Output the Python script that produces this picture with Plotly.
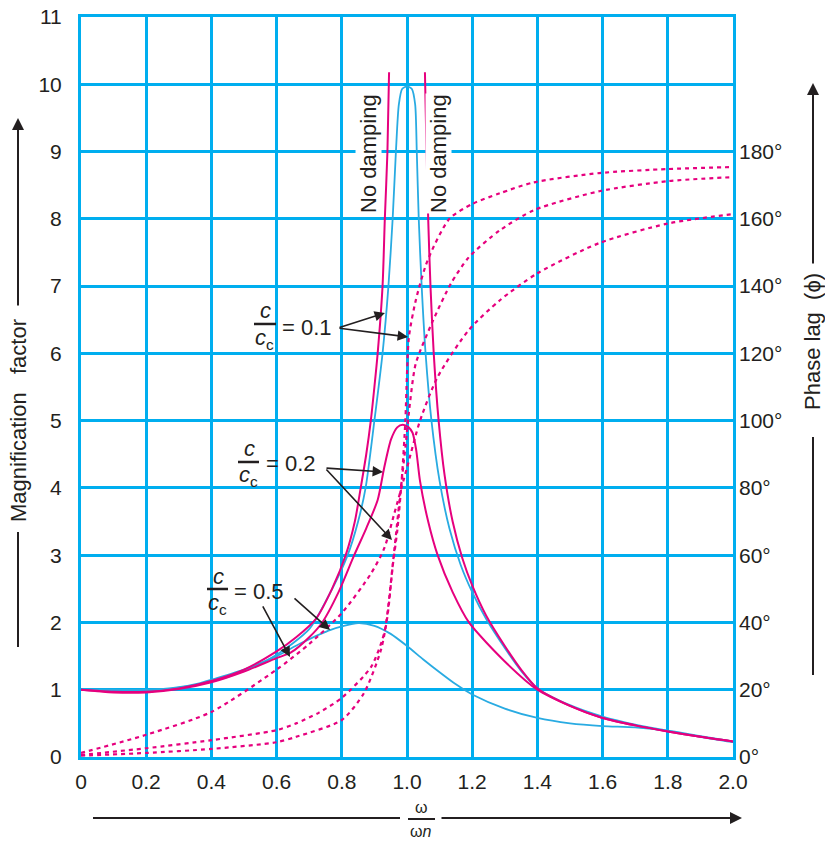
import plotly.graph_objects as go

# ---------------- data ----------------
x_ticks = [0, 0.2, 0.4, 0.6, 0.8, 1.0, 1.2, 1.4, 1.6, 1.8, 2.0]
x_ticktext = ["0", "0.2", "0.4", "0.6", "0.8", "1.0", "1.2", "1.4", "1.6", "1.8", "2.0"]
y_ticks = list(range(0, 12))
phase_ticks = [0, 20, 40, 60, 80, 100, 120, 140, 160, 180]
phase_ticktext = [f"{v}°" for v in phase_ticks]

# magnification factor curves
nd_left_x = [0, 0.1, 0.2, 0.3, 0.4, 0.5, 0.6, 0.66, 0.72, 0.77, 0.812, 0.84, 0.858, 0.875, 0.889, 0.90, 0.91, 0.925, 0.932, 0.94, 0.945]
nd_left_y = [1.0, 0.97, 0.97, 1.02, 1.13, 1.3, 1.57, 1.78, 2.05, 2.5, 3.0, 3.5, 4.0, 4.5, 5.0, 5.5, 6.0, 7.0, 8.0, 9.0, 10.18]
nd_right_x = [1.055, 1.06, 1.065, 1.072, 1.082, 1.097, 1.115, 1.14, 1.17, 1.2, 1.243, 1.3, 1.35, 1.4, 1.5, 1.6, 1.7, 1.8, 1.9, 2.0]
nd_right_y = [10.18, 9.0, 8.0, 7.0, 6.0, 5.0, 4.2, 3.5, 2.95, 2.55, 2.1, 1.65, 1.3, 1.02, 0.76, 0.58, 0.47, 0.38, 0.3, 0.23]

z01_x = [0, 0.1, 0.2, 0.3, 0.4, 0.5, 0.6, 0.7, 0.76, 0.818, 0.85, 0.873, 0.9, 0.925, 0.943, 0.956, 0.966, 0.975, 0.985, 1.0,
         1.015, 1.025, 1.03, 1.036, 1.045, 1.057, 1.075, 1.1, 1.13, 1.165, 1.2, 1.243, 1.3, 1.35, 1.4, 1.5, 1.6, 1.7, 1.8, 1.9, 2.0]
z01_y = [1.0, 0.98, 0.98, 1.03, 1.12, 1.28, 1.52, 1.9, 2.4, 3.0, 3.5, 4.0, 5.0, 6.0, 7.0, 8.0, 9.0, 9.7, 9.93, 9.97,
         9.93, 9.7, 9.0, 8.0, 7.0, 6.0, 5.0, 4.1, 3.4, 2.85, 2.45, 2.05, 1.62, 1.28, 1.02, 0.77, 0.6, 0.48, 0.39, 0.3, 0.22]

z02_x = [0, 0.1, 0.2, 0.3, 0.4, 0.5, 0.6, 0.643, 0.7, 0.74, 0.79, 0.838, 0.875, 0.91, 0.93, 0.951, 0.97, 0.987, 1.005,
         1.017, 1.028, 1.04, 1.065, 1.094, 1.14, 1.19, 1.3, 1.4, 1.5, 1.6, 1.7, 1.8, 1.9, 2.0]
z02_y = [1.0, 0.96, 0.96, 1.01, 1.11, 1.27, 1.47, 1.55, 1.78, 2.0, 2.45, 3.0, 3.4, 3.82, 4.3, 4.72, 4.9, 4.94, 4.9,
         4.82, 4.57, 4.1, 3.5, 3.0, 2.45, 2.0, 1.42, 1.0, 0.76, 0.58, 0.47, 0.38, 0.3, 0.23]

z05_x = [0, 0.1, 0.2, 0.3, 0.366, 0.4, 0.5, 0.6, 0.674, 0.766, 0.85, 0.9, 0.95, 1.0, 1.05, 1.1, 1.15, 1.2, 1.3, 1.4, 1.5, 1.6, 1.7, 1.8, 1.9, 2.0]
z05_y = [1.0, 1.0, 1.0, 1.04, 1.1, 1.15, 1.3, 1.5, 1.69, 1.89, 1.99, 1.95, 1.83, 1.65, 1.45, 1.26, 1.08, 0.93, 0.72, 0.58, 0.5, 0.46, 0.44, 0.39, 0.31, 0.23]

# phase lag curves (degrees)
p01_x = [0, 0.2, 0.4, 0.6, 0.66, 0.8, 0.868, 0.92, 0.94, 0.956, 0.971, 0.985, 0.995, 1.0, 1.006, 1.027, 1.063, 1.13, 1.2, 1.285, 1.387, 1.59, 1.8, 2.0]
p01_deg = [0.4, 1.2, 2.4, 4.4, 6, 11, 19, 31.8, 41.8, 56.6, 68, 84, 100, 114, 125, 135.8, 147.6, 160, 164.4, 167.6, 170.8, 173.6, 174.8, 175.4]
p02_x = [0, 0.2, 0.4, 0.6, 0.66, 0.73, 0.8, 0.89, 0.93, 0.945, 0.955, 0.966, 0.98, 0.995, 1.01, 1.027, 1.08, 1.135, 1.19, 1.285, 1.39, 1.59, 1.8, 2.0]
p02_deg = [0.6, 2.6, 5, 8, 10, 13.2, 17.6, 26.8, 36.8, 47, 56, 66, 79, 92, 106, 117, 129.8, 140.8, 148.6, 156.6, 162.6, 168.2, 171.2, 172.4]
p05_x = [0, 0.2, 0.4, 0.6, 0.7, 0.8, 0.89, 0.93, 0.96, 1.0, 1.04, 1.094, 1.19, 1.285, 1.4, 1.59, 1.8, 2.0]
p05_deg = [1.2, 6.6, 13.4, 26, 33.6, 42.8, 54.6, 62, 72, 86, 100, 113, 127, 135.8, 143.8, 152.8, 158.6, 161.4]

# ---------------- styling ----------------
GRID = "#00AEEF"
MAG = "#E6007E"
BLUE = "#29ABE2"
TXT = "#231F20"
FONT = "Liberation Sans, Arial, sans-serif"

fig = go.Figure()

def solid(x, y, color, width):
    fig.add_trace(go.Scatter(x=x, y=y, mode="lines", line=dict(color=color, width=width, shape="spline", smoothing=0.7),
                             hoverinfo="skip", showlegend=False))

def dashed(x, y):
    fig.add_trace(go.Scatter(x=x, y=y, mode="lines", yaxis="y2",
                             line=dict(color=MAG, width=2.2, dash="4px,4px", shape="spline", smoothing=0.7),
                             hoverinfo="skip", showlegend=False))

dashed(p01_x, p01_deg)
dashed(p02_x, p02_deg)
dashed(p05_x, p05_deg)
solid(z05_x, z05_y, BLUE, 1.8)
solid(z01_x, z01_y, BLUE, 1.8)
solid(z02_x, z02_y, MAG, 2.0)
solid(nd_left_x, nd_left_y, MAG, 2.0)
solid(nd_right_x, nd_right_y, MAG, 2.0)

# page pixel -> data / paper helpers for label placement
def dx(px):
    return (px - 81) / 326.0

def dy(py):
    return (757 - py) / 67.27

def px_(px):
    return (px - 81) / 652.0

def py_(py):
    return (757 - py) / 740.0

ann = []
shapes = []

# "No damping" labels
for cx in (369, 439):
    ann.append(dict(x=dx(cx), y=dy(154), xref="x", yref="y", text="No damping", textangle=-90, showarrow=False,
                    xanchor="center", yanchor="middle",
                    font=dict(size=22, color=TXT, family=FONT), bgcolor="white", borderpad=0))

# damping-ratio labels c/cc = ...
labels = [
    ("0.1", (265, 311), (254, 276, 324), (264, 339), (280, 328), [((338, 328), (385, 313)), ((338, 328), (408, 337))]),
    ("0.2", (249, 449), (238, 259, 462), (248, 476), (264, 464), [((325, 468), (383, 472)), ((325, 468), (392, 540))]),
    ("0.5", (218, 577), (207, 228, 589), (217, 604), (232, 592), [((293, 597), (330, 630)), ((262, 605), (290, 657))]),
]
for val, cpos, bar, ccpos, eqpos, arrows in labels:
    ann.append(dict(x=dx(cpos[0]), y=dy(cpos[1]), xref="x", yref="y", text="<i>c</i>", showarrow=False,
                    xanchor="center", yanchor="middle", font=dict(size=22, color=TXT, family=FONT)))
    ann.append(dict(x=dx(ccpos[0]), y=dy(ccpos[1]), xref="x", yref="y", text="<i>c</i><sub>c</sub>", showarrow=False,
                    xanchor="center", yanchor="middle", font=dict(size=22, color=TXT, family=FONT)))
    ann.append(dict(x=dx(eqpos[0]), y=dy(eqpos[1]), xref="x", yref="y", text="= " + val, showarrow=False,
                    xanchor="left", yanchor="middle", font=dict(size=22, color=TXT, family=FONT)))
    shapes.append(dict(type="line", xref="x", yref="y", x0=dx(bar[0]), x1=dx(bar[1]), y0=dy(bar[2]), y1=dy(bar[2]),
                       line=dict(color=TXT, width=2.5)))
    for tail, tip in arrows:
        ann.append(dict(x=dx(tip[0]), y=dy(tip[1]), ax=dx(tail[0]), ay=dy(tail[1]), xref="x", yref="y",
                        axref="x", ayref="y", text="", showarrow=True, arrowhead=2, arrowsize=1.3,
                        arrowwidth=1.6, arrowcolor=TXT))

def paper_text(px, py, text, size, angle=0):
    ann.append(dict(x=px_(px), y=py_(py), xref="paper", yref="paper", text=text, textangle=angle, showarrow=False,
                    xanchor="center", yanchor="middle", font=dict(size=size, color=TXT, family=FONT)))

def paper_arrow(tip, tail):
    ann.append(dict(x=px_(tip[0]), y=py_(tip[1]), xref="paper", yref="paper", text="", showarrow=True,
                    ax=tail[0] - tip[0], ay=tail[1] - tip[1], arrowhead=2, arrowsize=1.2, arrowwidth=2,
                    arrowcolor=TXT))

def paper_line(p0, p1):
    shapes.append(dict(type="line", xref="paper", yref="paper", x0=px_(p0[0]), x1=px_(p1[0]), y0=py_(p0[1]),
                       y1=py_(p1[1]), line=dict(color=TXT, width=2)))

# axis titles with arrows
paper_text(18, 421, "Magnification\u00a0\u00a0\u00a0factor", 22, -90)
paper_arrow((18, 118), (18, 307))
paper_line((18, 532), (18, 647))

paper_text(813, 342, "Phase lag\u00a0\u00a0(ϕ)", 22, -90)
paper_arrow((813, 83), (813, 265))
paper_line((813, 437), (813, 675))

paper_text(421, 807, "ω", 16)
paper_text(421, 831, "ω<i>n</i>", 16)
paper_line((408, 819), (435, 819))
paper_line((93, 818), (400, 818))
paper_arrow((742, 818), (440, 818))

axis_common = dict(showgrid=True, gridcolor=GRID, gridwidth=3, showline=True, mirror=True, linecolor=GRID,
                   linewidth=3, zeroline=False, ticks="", automargin=False, ticklabeloverflow="allow",
                   tickfont=dict(size=21, color=TXT, family=FONT))

fig.update_layout(
    width=825, height=842,
    margin=dict(l=81, r=92, t=17, b=85, autoexpand=False),
    paper_bgcolor="white", plot_bgcolor="white",
    xaxis=dict(range=[0, 2.0], tickvals=x_ticks, ticktext=x_ticktext, ticklabelstandoff=4, **axis_common),
    yaxis=dict(range=[0, 11], tickvals=y_ticks, ticklabelstandoff=12, **axis_common),
    yaxis2=dict(range=[0, 220], overlaying="y", side="right", tickvals=phase_ticks, ticktext=phase_ticktext,
                showgrid=False, zeroline=False, showline=False, ticks="", ticklabelstandoff=5, automargin=False,
                ticklabeloverflow="allow", tickfont=dict(size=21, color=TXT, family=FONT)),
    annotations=ann, shapes=shapes, showlegend=False,
)

# remove the browser's default 8 px body margin so the figure sits at the page's top-left corner
fig.write_html("out.html", config={"displayModeBar": False},
               post_script="document.body.style.margin='0';document.body.style.overflow='hidden';")
